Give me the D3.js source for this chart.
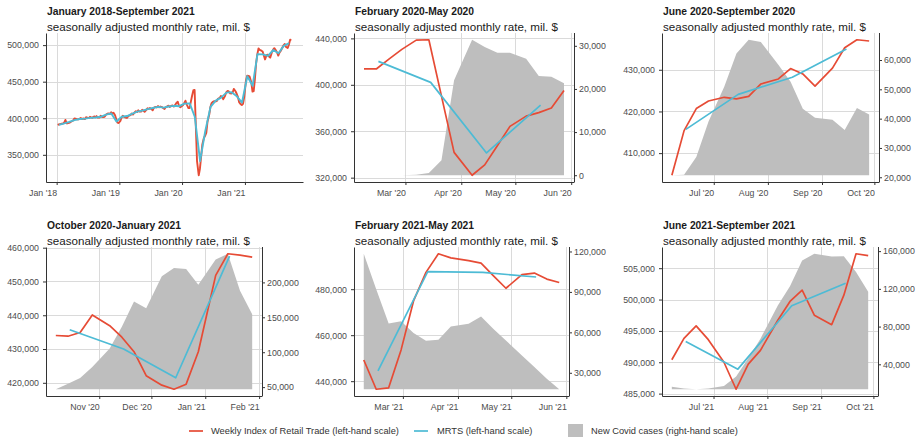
<!DOCTYPE html>
<html>
<head>
<meta charset="utf-8">
<script src="https://cdnjs.cloudflare.com/ajax/libs/d3/7.8.5/d3.min.js"></script>
<style>
body { margin: 0; background: #fff; }
text { font-family: "Liberation Sans", Arial, sans-serif; }
</style>
</head>
<body>
<div id="chart-area"></div>
<script>
/*
*    retail vs covid panels
*/

var width = 919;
var height = 437;

// weekly readings sit on the 7th, 14th, 21st and 28th of each month
var weekDays = [7, 14, 21, 28];

// Weekly Index of Retail Trade, Jan 2018 - Jan 2020
var retailEarly = [
	390800, 391500, 392000, 392400, 392800, 394000, 397700, 393000,
	393200, 393800, 394500, 395500, 397000, 399800, 399500, 398600,
	398400, 399200, 400300, 399000, 399600, 398800, 401400, 400900,
	400200, 402000, 401200, 400600, 402600, 401500, 402900, 401000,
	400800, 403300, 402000, 401500, 401900, 404600, 406000, 406500,
	405800, 408200, 406600, 407500, 404000, 398500, 394000, 393500,
	396500, 401000, 403400, 402000, 401000, 400400, 402600, 403800,
	404200, 406500, 405000, 407200, 409700, 408400, 410800, 409300,
	409000, 411600, 410200, 408800, 411400, 413700, 412600, 414000,
	412500, 410800, 414400, 415500, 414800, 416700, 415000, 416000,
	415200, 413800, 412700, 415000, 416300, 417200, 415500, 416800,
	417500, 416000, 417800, 420500, 422700, 417200, 415000, 416200,
	418000, 421000, 424000, 419000
];
// MRTS, monthly, Jan 2018 - Jan 2020
var mrtsEarly = [
	391000, 393000, 395000, 397500, 399000, 399500, 400500, 401000, 402000, 405000, 406500, 395500,
	402000, 403000, 406000, 409000, 410500, 412500, 414000, 415500, 414500, 416000, 417000, 416500,
	420000
];

// Feb 2020 - May 2020
var retailFeb20 = [413800, 413800, 422400, 430500, 438500, 438800, 390300, 341800,
	322100, 331000, 347500, 364200, 373000, 376000, 380000, 395100];
var mrtsFeb20 = [420200, 402100, 341300, 382400];
var covidFeb20 = [0, 0, 0, 0, 100, 500, 3500, 22000,
	31400, 29700, 28400, 28400, 27000, 23000, 22800, 21300];

// Jun 2020 - Sep 2020
var retailJun20 = [404700, 415400, 420700, 422500, 423400, 423000, 423600, 426600,
	427800, 430300, 429000, 426100, 430400, 435300, 437200, 436900];
var mrtsJun20 = [415700, 424100, 428200, 435000];
var covidJun20 = [20700, 20900, 26900, 39000, 50900, 62200, 66900, 66100,
	58400, 52600, 43400, 40300, 39600, 36100, 43600, 41400];

// Oct 2020 - Jan 2021
var retailOct20 = [434000, 433800, 434900, 440100, 436900, 433500, 429200, 422100,
	419300, 418100, 419600, 429200, 451800, 458200, 457800, 457200];
var mrtsOct20 = [435700, 430000, 421500, 457500];
var covidOct20 = [47000, 54900, 63000, 78800, 105400, 136500, 172600, 163100,
	208700, 220800, 219300, 196700, 232700, 241000, 188000, 154400];

// Feb 2021 - May 2021
var retailFeb21 = [449200, 436500, 437100, 453600, 474900, 487300, 495400, 493600,
	492400, 491300, 485800, 480400, 486300, 487000, 484400, 482900];
var mrtsFeb21 = [444500, 487600, 487300, 485300];
var covidFeb21 = [118300, 92000, 66500, 68300, 59600, 53800, 54500, 64300,
	66300, 71800, 62500, 54000, 42800, 34200, 25600, 17800];

// Jun 2021 - Sep 2021
var retailJun21 = [490400, 493800, 495800, 493600, 490000, 485700, 489700, 491900,
	496700, 499700, 501500, 497500, 496000, 500700, 507300, 507000];
var mrtsJun21 = [493300, 488900, 499000, 502600];
var covidJun21 = [16200, 14400, 13600, 14300, 17100, 27100, 46400, 67200,
	102400, 122800, 150000, 157200, 154300, 154600, 138000, 117000];

var titles = ["January 2018-September 2021", "February 2020-May 2020", "June 2020-September 2020",
	"October 2020-January 2021", "February 2021-May 2021", "June 2021-September 2021"];
var startMonths = ["2018-01", "2020-02", "2020-06", "2020-10", "2021-02", "2021-06"];
var subtitle = "seasonally adjusted monthly rate, mil. $";

var leftTicks = [
	[350000, 400000, 450000, 500000],
	[320000, 360000, 400000, 440000],
	[410000, 420000, 430000],
	[420000, 430000, 440000, 450000, 460000],
	[440000, 460000, 480000],
	[485000, 490000, 495000, 500000, 505000]
];
var rightTicks = [
	null,
	[0, 10000, 20000, 30000],
	[20000, 30000, 40000, 50000, 60000],
	[50000, 100000, 150000, 200000],
	[30000, 60000, 90000, 120000],
	[40000, 80000, 120000, 160000]
];
var xTicks = [
	["2018-01-01", "2019-01-01", "2020-01-01", "2021-01-01"],
	["2020-03-01", "2020-04-01", "2020-05-01", "2020-06-01"],
	["2020-07-01", "2020-08-01", "2020-09-01", "2020-10-01"],
	["2020-11-01", "2020-12-01", "2021-01-01", "2021-02-01"],
	["2021-03-01", "2021-04-01", "2021-05-01", "2021-06-01"],
	["2021-07-01", "2021-08-01", "2021-09-01", "2021-10-01"]
];
var legendLabels = ["Weekly Index of Retail Trade (left-hand scale)", "MRTS (left-hand scale)", "New Covid cases (right-hand scale)"];

var red = "#E64B35", blue = "#4DBBD5", grey = "#BEBEBE";

var panels = [
	{ retail: retailEarly.concat(retailFeb20, retailJun20, retailOct20, retailFeb21, retailJun21),
	  mrts: mrtsEarly.concat(mrtsFeb20, mrtsJun20, mrtsOct20, mrtsFeb21, mrtsJun21), covid: null },
	{ retail: retailFeb20, mrts: mrtsFeb20, covid: covidFeb20 },
	{ retail: retailJun20, mrts: mrtsJun20, covid: covidJun20 },
	{ retail: retailOct20, mrts: mrtsOct20, covid: covidOct20 },
	{ retail: retailFeb21, mrts: mrtsFeb21, covid: covidFeb21 },
	{ retail: retailJun21, mrts: mrtsJun21, covid: covidJun21 }
];

// plot boxes: left, right, top, bottom
var boxes = [
	[46, 303, 33, 182], [354, 574, 33, 182], [662, 879, 33, 182],
	[46, 262, 247, 396], [354, 569, 247, 396], [662, 878, 247, 396]
];

var parseDay = d3.timeParse("%Y-%m-%d");

function weekly(start, n) {
	var s = parseDay(start + "-01"), out = [];
	for (var i = 0; i < n; i++) {
		out.push(new Date(s.getFullYear(), s.getMonth() + Math.floor(i / 4), weekDays[i % 4]));
	}
	return out;
}
function monthly(start, n) {
	var s = parseDay(start + "-01"), out = [];
	for (var i = 0; i < n; i++) out.push(new Date(s.getFullYear(), s.getMonth() + i, 15));
	return out;
}
function expand(ext) {
	var p = (ext[1] - ext[0]) * 0.05;
	return [+ext[0] - p, +ext[1] + p];
}

var svg = d3.select("#chart-area")
	.append("svg")
	.attr("width", width)
	.attr("height", height);

function styleAxis(sel) {
	sel.select(".domain").attr("stroke", "#333").attr("stroke-width", 1);
	sel.selectAll(".tick line").attr("stroke", "#333");
	sel.selectAll(".tick text")
		.attr("fill", "#4d4d4d")
		.attr("font-size", "8.8px")
		.attr("font-family", "Liberation Sans, Arial, sans-serif");
}

panels.forEach((p, k) => {
	var b = boxes[k];
	var g = svg.append("g").attr("class", "panel");
	var lw = k == 0 ? 1.9 : 1.7;

	var rDates = weekly(startMonths[k], p.retail.length);
	var mDates = monthly(startMonths[k], p.mrts.length);
	var rData = rDates.map((d, i) => ({ date: d, v: p.retail[i] }));
	var mData = mDates.map((d, i) => ({ date: d, v: p.mrts[i] }));

	var xDom = expand(d3.extent(rDates.concat(mDates)));
	var x = d3.scaleTime()
		.domain([new Date(xDom[0]), new Date(xDom[1])])
		.range([b[0], b[1]]);

	var yExt = d3.extent(p.retail.concat(p.mrts));
	var y = d3.scaleLinear()
		.domain(expand(yExt))
		.range([b[3], b[2]]);

	var xt = xTicks[k].map(parseDay);

	// grid
	g.selectAll(".hgrid").data(leftTicks[k]).enter()
		.append("line")
		.attr("x1", b[0]).attr("x2", b[1])
		.attr("y1", d => Math.round(y(d)) + 0.5)
		.attr("y2", d => Math.round(y(d)) + 0.5)
		.attr("stroke", "#dadada");
	g.selectAll(".vgrid").data(xt).enter()
		.append("line")
		.attr("x1", d => Math.round(x(d)) + 0.5)
		.attr("x2", d => Math.round(x(d)) + 0.5)
		.attr("y1", b[2]).attr("y2", b[3])
		.attr("stroke", "#dadada");

	// covid cases, scaled onto the left-hand range
	var y2 = null;
	if (p.covid) {
		y2 = d3.scaleLinear()
			.domain(d3.extent(p.covid))
			.range([y(yExt[0]), y(yExt[1])]);
		var cData = rDates.map((d, i) => ({ date: d, v: p.covid[i] }));
		g.append("path")
			.datum(cData)
			.attr("fill", grey)
			.attr("d", d3.area()
				.x(d => x(d.date))
				.y0(y(yExt[0]))
				.y1(d => y2(d.v)));
	}

	var line = d3.line().x(d => x(d.date)).y(d => y(d.v));

	g.append("path")
		.datum(rData)
		.attr("fill", "none")
		.attr("stroke", red)
		.attr("stroke-width", lw)
		.attr("stroke-linejoin", "round")
		.attr("d", line);

	g.append("path")
		.datum(mData)
		.attr("fill", "none")
		.attr("stroke", blue)
		.attr("stroke-width", lw)
		.attr("stroke-linejoin", "round")
		.attr("d", line);

	// axes
	var bottomAxis = d3.axisBottom(x)
		.tickValues(xt)
		.tickFormat(d3.timeFormat("%b '%y"))
		.tickSize(3)
		.tickSizeOuter(0)
		.tickPadding(5);
	g.append("g")
		.attr("class", "bottom axis")
		.attr("transform", "translate(0, " + b[3] + ")")
		.call(bottomAxis)
		.call(styleAxis)
		.selectAll(".tick text")
		.attr("text-anchor", "end");

	var leftAxis = d3.axisLeft(y)
		.tickValues(leftTicks[k])
		.tickFormat(d3.format(","))
		.tickSize(3)
		.tickSizeOuter(0)
		.tickPadding(4);
	g.append("g")
		.attr("class", "left axis")
		.attr("transform", "translate(" + b[0] + ", 0)")
		.call(leftAxis)
		.call(styleAxis);

	if (y2) {
		var rightAxis = d3.axisRight(y2)
			.tickValues(rightTicks[k])
			.tickFormat(d3.format(","))
			.tickSize(3)
			.tickSizeOuter(0)
			.tickPadding(2);
		var ra = g.append("g")
			.attr("class", "right axis")
			.attr("transform", "translate(" + b[1] + ", 0)")
			.call(rightAxis)
			.call(styleAxis);
		// right axis line spans the whole panel, not only the covid range
		ra.select(".domain").attr("d", "M0.5," + b[3] + "V" + b[2]);
	}

	// titles
	g.append("text")
		.attr("x", b[0] + 1)
		.attr("y", b[2] - 18)
		.attr("font-size", "10.3px")
		.attr("font-weight", "bold")
		.attr("fill", "#1a1a1a")
		.text(titles[k]);
	g.append("text")
		.attr("x", b[0] + 1)
		.attr("y", b[2] - 2)
		.attr("font-size", "11.6px")
		.attr("fill", "#1a1a1a")
		.text(subtitle);
});

// legend
var legend = svg.append("g").attr("class", "legend");
var keyX = [189, 414, 568];
var textX = [211, 437, 591];
var ly = 431;

legend.append("line")
	.attr("x1", keyX[0]).attr("x2", keyX[0] + 14)
	.attr("y1", ly).attr("y2", ly)
	.attr("stroke", red).attr("stroke-width", 1.7);
legend.append("line")
	.attr("x1", keyX[1]).attr("x2", keyX[1] + 14)
	.attr("y1", ly).attr("y2", ly)
	.attr("stroke", blue).attr("stroke-width", 1.7);
legend.append("rect")
	.attr("x", keyX[2]).attr("y", ly - 7)
	.attr("width", 15).attr("height", 14)
	.attr("fill", grey);

legend.selectAll(".label").data(legendLabels).enter()
	.append("text")
	.attr("x", (d, i) => textX[i])
	.attr("y", ly)
	.attr("dy", "0.35em")
	.attr("font-size", "9.3px")
	.attr("fill", "#333")
	.text(d => d);
</script>
</body>
</html>
